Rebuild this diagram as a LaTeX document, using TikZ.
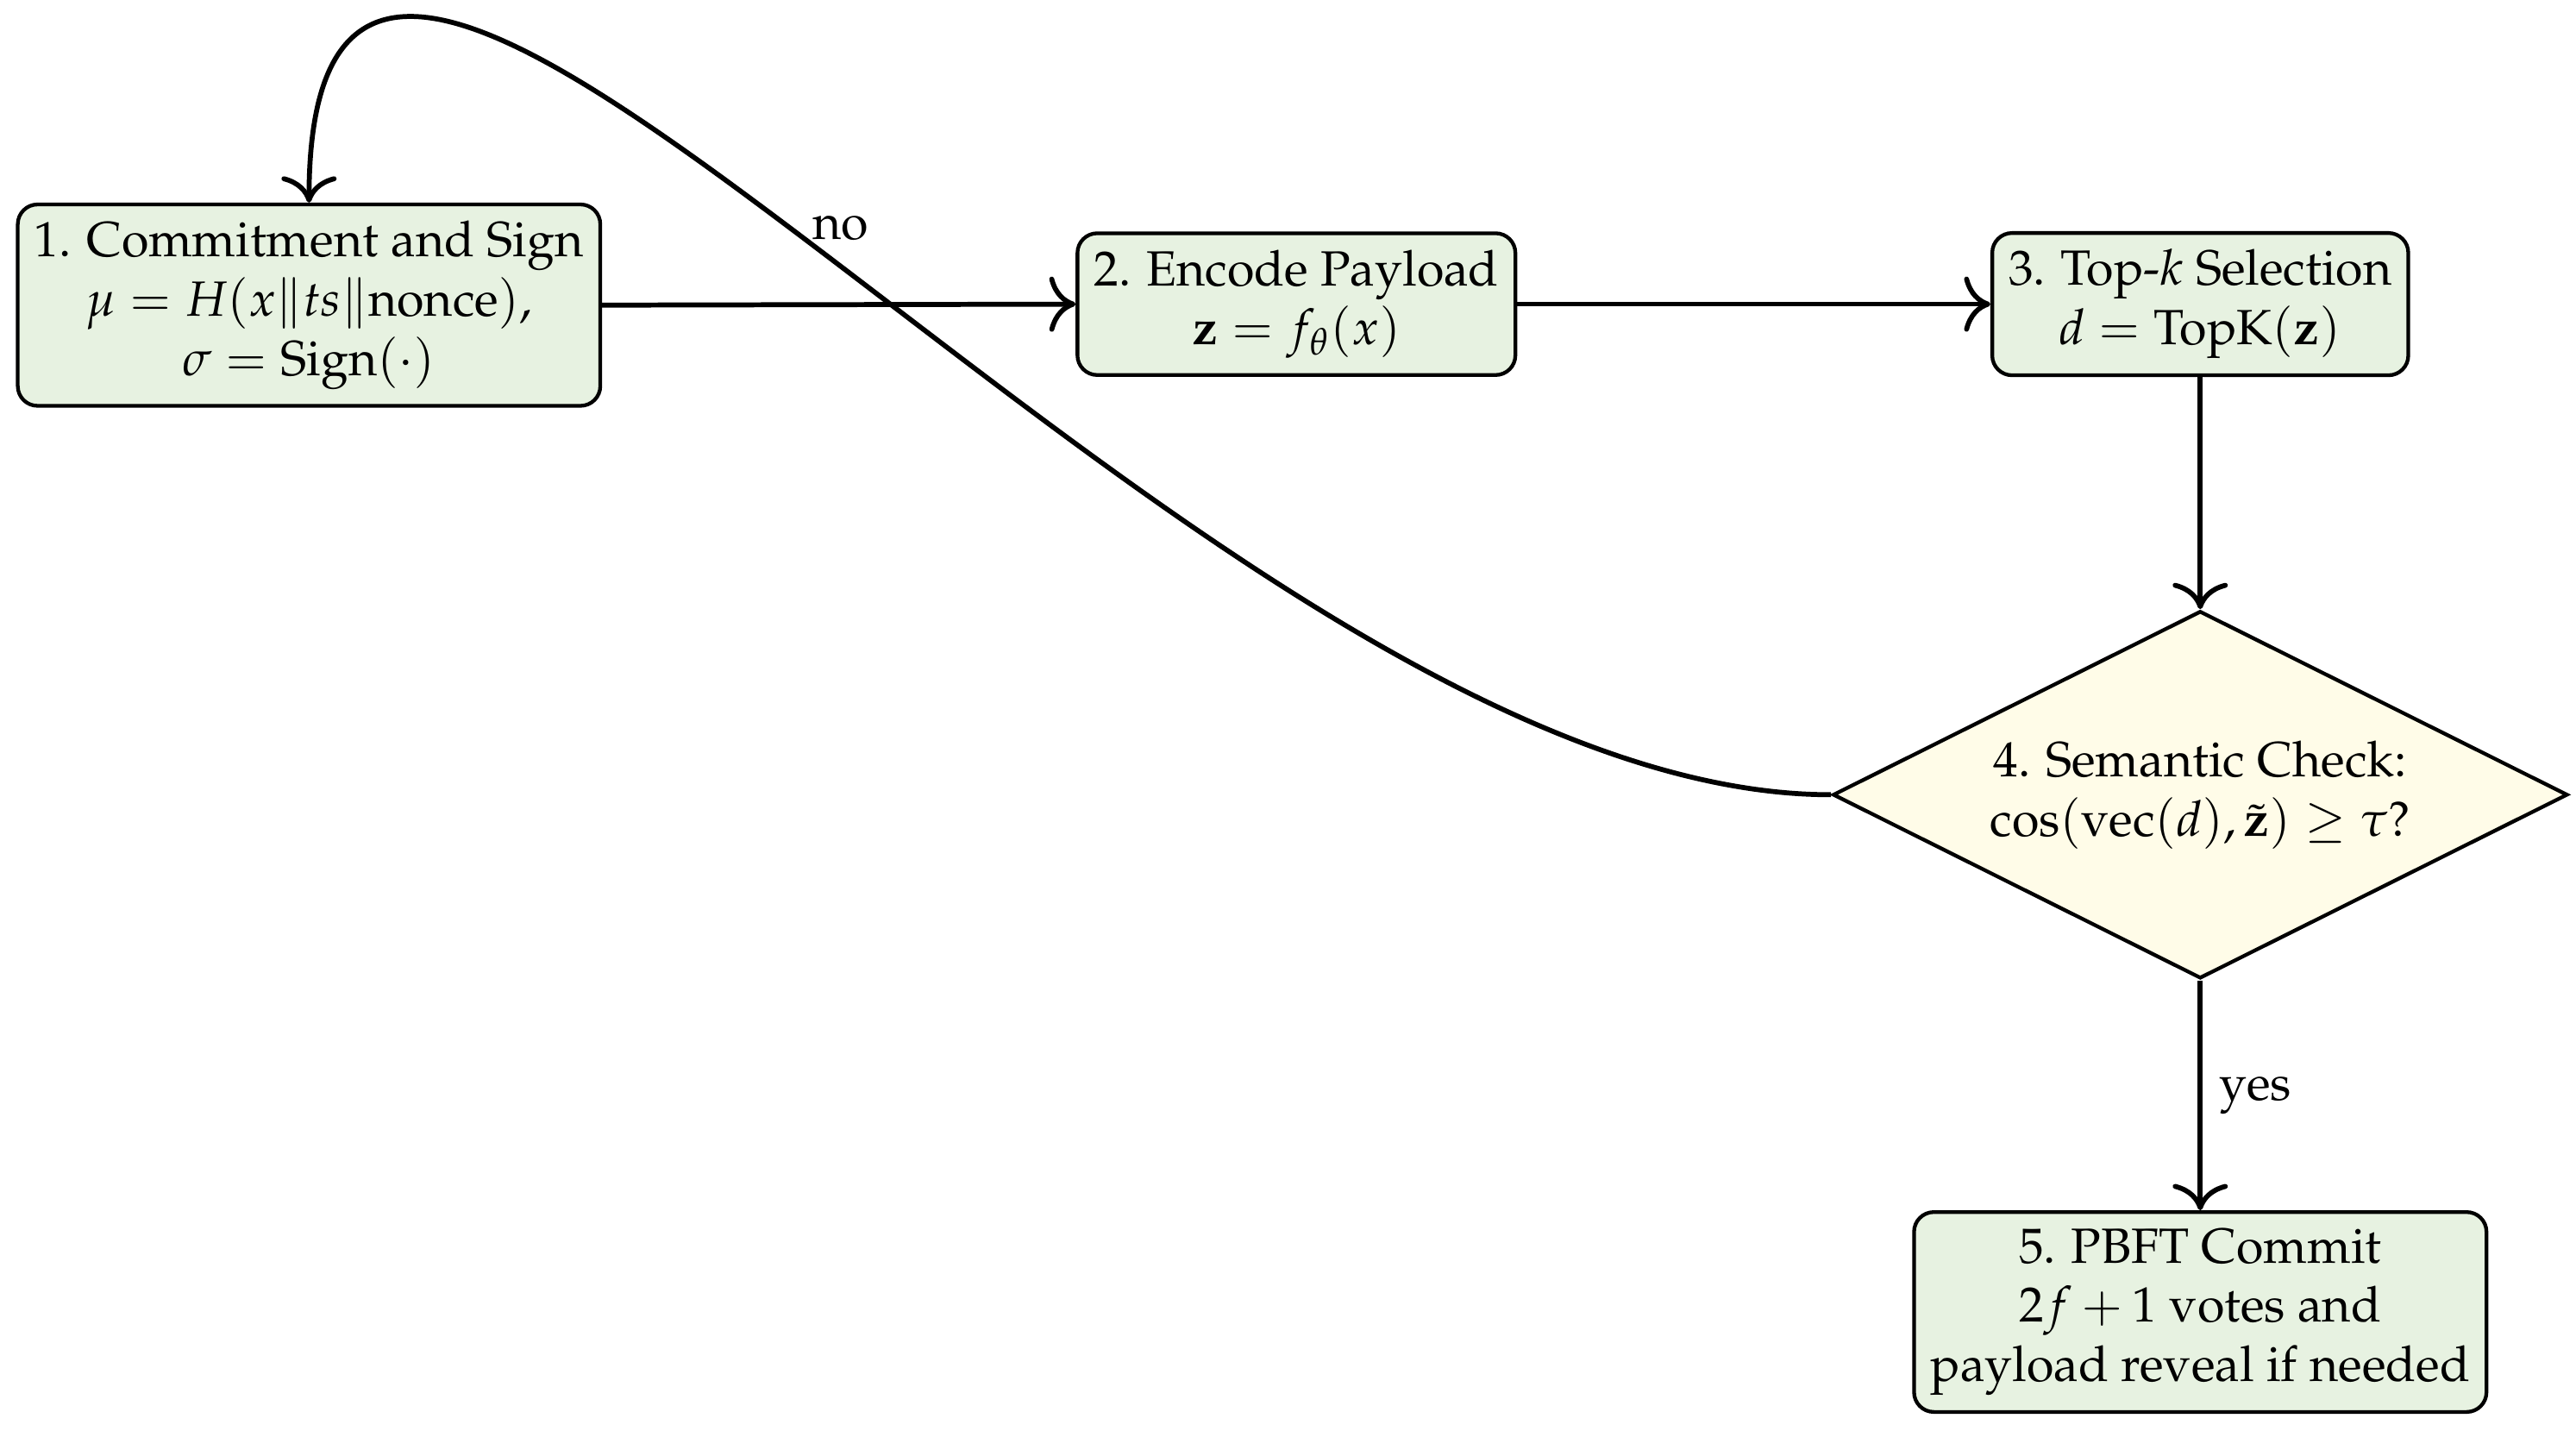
\documentclass[tikz,border=0pt]{standalone}
\usepackage[T1]{fontenc}
\usepackage{mathpazo}
\usetikzlibrary{shapes.geometric,arrows.meta}
\definecolor{boxgreen}{RGB}{231,242,225}
\definecolor{diayellow}{RGB}{255,252,232}
\begin{document}
\begin{tikzpicture}[x=1pt,y=1pt,
  stepbox/.style={draw, line width=0.75pt, rounded corners=4pt, fill=boxgreen, align=center},
  decision/.style={draw, line width=0.75pt, diamond, aspect=2, fill=diayellow, align=center},
  conn/.style={-{To[scale=1.4]}, line width=1pt}]
\useasboundingbox (0,0) rectangle (521,-289.3);
\node[stepbox] (b1) at (62.5,-61.7) {1. Commitment and Sign\\ $\mu = H(x\|ts\|\mathrm{nonce})$,\\ $\sigma = \mathrm{Sign}(\cdot)$};
\node[stepbox] (b2) at (262.2,-61.5) {2. Encode Payload\\ $\mathbf{z} = f_\theta(x)$};
\node[stepbox] (b3) at (445,-61.5) {3. Top-$k$ Selection\\ $d = \mathrm{TopK}(\mathbf{z})$};
\node[decision] (d4) at (445,-160.7) {4. Semantic Check:\\ $\cos(\mathrm{vec}(d),\tilde{\mathbf{z}}) \geq \tau$?};
\node[stepbox] (b5) at (445,-265.3) {5. PBFT Commit\\ $2f+1$ votes and\\ payload reveal if needed};
\draw[conn] (b1.east) -- (b2.west);
\draw[conn] (b2.east) -- (b3.west);
\draw[conn] (b3.south) -- (d4.north);
\draw[conn] (d4.south) -- node[right] {yes} (b5.north);
\draw[conn] (d4.west) to[out=180,in=90] node[above,xshift=2pt] {no} (b1.north);
\end{tikzpicture}
\end{document}
